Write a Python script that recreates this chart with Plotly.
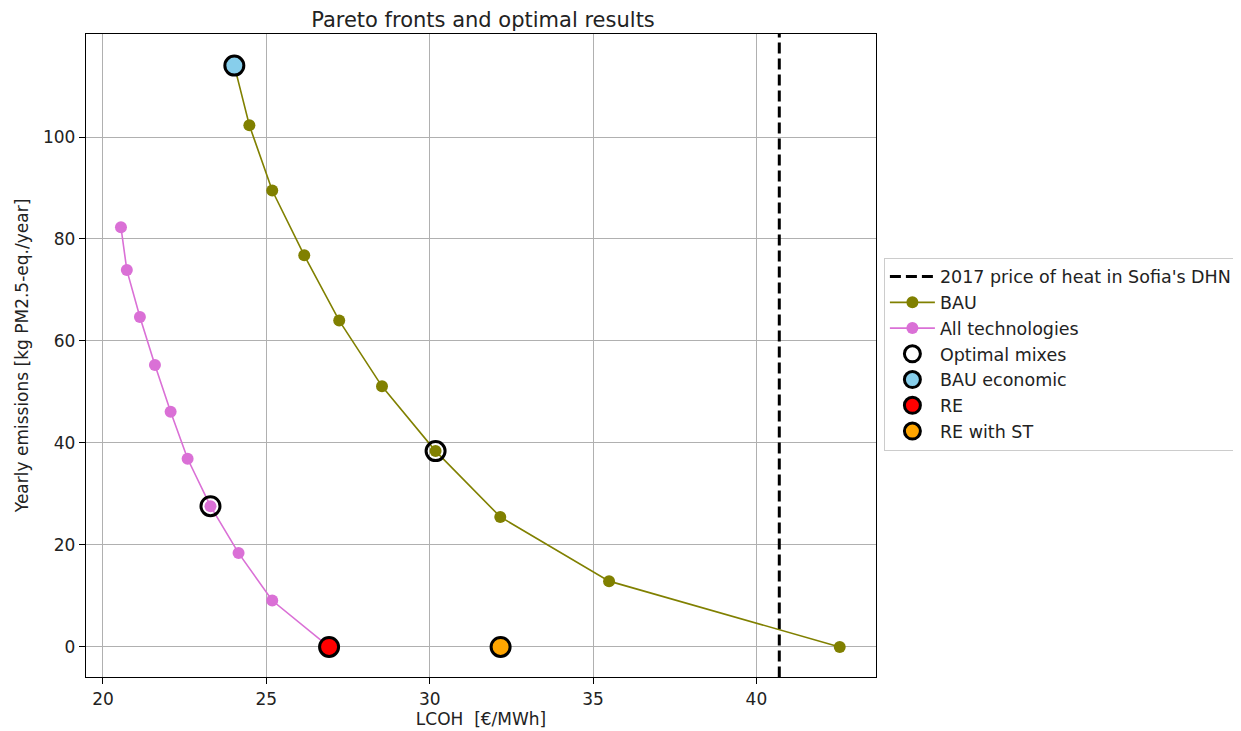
import plotly.graph_objects as go

bau_x = [24.02, 24.48, 25.18, 26.16, 27.23, 28.54, 30.18, 32.16, 35.49, 42.55]
bau_y = [114.0, 102.3, 89.5, 76.8, 64.0, 51.1, 38.4, 25.5, 12.9, 0.0]
all_x = [20.55, 20.73, 21.13, 21.59, 22.07, 22.59, 23.29, 24.15, 25.18, 26.92]
all_y = [82.3, 73.9, 64.7, 55.3, 46.1, 36.9, 27.6, 18.4, 9.1, 0.0]
opt_x = [30.18, 23.29]
opt_y = [38.4, 27.6]
bau_econ_x = [24.02]
bau_econ_y = [114.0]
re_x = [26.92]
re_y = [0.0]
rest_x = [32.17]
rest_y = [0.0]
price_2017 = 40.7
y_span = [-6, 121]

font = "DejaVu Sans"
fig = go.Figure()
fig.add_trace(go.Scatter(x=[price_2017, price_2017], y=y_span, mode="lines",
                         line=dict(color="black", width=3, dash="11px,5px"),
                         name="2017 price of heat in Sofia's DHN"))
fig.add_trace(go.Scatter(x=bau_x, y=bau_y, mode="lines+markers",
                         line=dict(color="olive", width=1.6),
                         marker=dict(color="olive", size=12), name="BAU"))
fig.add_trace(go.Scatter(x=all_x, y=all_y, mode="lines+markers",
                         line=dict(color="orchid", width=1.6),
                         marker=dict(color="orchid", size=12), name="All technologies"))
big = dict(size=19, line=dict(color="black", width=3))
fig.add_trace(go.Scatter(x=opt_x, y=opt_y, mode="markers",
                         marker=dict(color="rgba(0,0,0,0)", **big), name="Optimal mixes"))
fig.add_trace(go.Scatter(x=bau_econ_x, y=bau_econ_y, mode="markers",
                         marker=dict(color="skyblue", **big), name="BAU economic"))
fig.add_trace(go.Scatter(x=re_x, y=re_y, mode="markers",
                         marker=dict(color="red", **big), name="RE"))
fig.add_trace(go.Scatter(x=rest_x, y=rest_y, mode="markers",
                         marker=dict(color="orange", **big), name="RE with ST"))

axis_common = dict(showline=True, linecolor="black", linewidth=1.3, mirror=True,
                   ticks="outside", ticklen=6, tickcolor="black",
                   showgrid=True, gridcolor="#b0b0b0", gridwidth=1, zeroline=False,
                   tickfont=dict(family=font, size=17, color="#222222"))
fig.update_layout(
    width=1241, height=731,
    margin=dict(l=78, r=369, t=26, b=62),
    plot_bgcolor="white", paper_bgcolor="white",
    title=dict(text="Pareto fronts and optimal results", x=(78 + 872) / 2 / 1241,
               xanchor="center", y=1 - 11.5 / 731, yanchor="middle",
               font=dict(family=font, size=21, color="#222222")),
    xaxis=dict(range=[19.48, 43.66], tickvals=[20, 25, 30, 35, 40],
               title=dict(text="LCOH  [€/MWh]", font=dict(family=font, size=17, color="#222222"), standoff=5),
               **axis_common),
    yaxis=dict(range=[-5.9, 120.2], tickvals=[0, 20, 40, 60, 80, 100],
               title=dict(text="Yearly emissions [kg PM2.5-eq./year]", font=dict(family=font, size=17, color="#222222"), standoff=10),
               **axis_common),
    legend=dict(x=1.01, xanchor="left", y=0.502, yanchor="middle",
                bordercolor="#cccccc", borderwidth=1, bgcolor="white",
                font=dict(family=font, size=17.5, color="#222222"), tracegroupgap=0,
                itemwidth=45, itemsizing="trace"),
    showlegend=True,
)
fig.write_html("out.html")
